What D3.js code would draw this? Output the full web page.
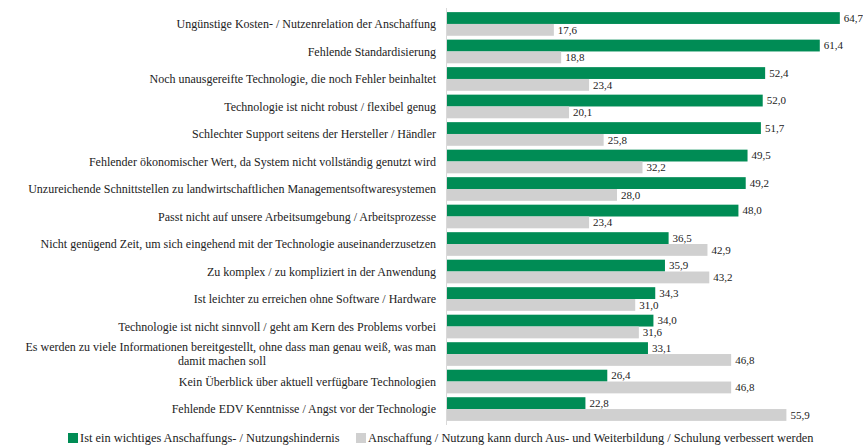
<!DOCTYPE html>
<html>
<head>
<meta charset="utf-8">
<script src="https://cdn.jsdelivr.net/npm/d3@7"></script>
<style>
  body { margin: 0; background: #fff; }
</style>
</head>
<body>
<div id="chart"></div>
<script>
// Categories (top to bottom) and the two series
const categories = [
    "Ungünstige Kosten- / Nutzenrelation der Anschaffung",
    "Fehlende Standardisierung",
    "Noch unausgereifte Technologie, die noch Fehler beinhaltet",
    "Technologie ist nicht robust / flexibel genug",
    "Schlechter Support seitens der Hersteller / Händler",
    "Fehlender ökonomischer Wert, da System nicht vollständig genutzt wird",
    "Unzureichende Schnittstellen zu landwirtschaftlichen Managementsoftwaresystemen",
    "Passt nicht auf unsere Arbeitsumgebung / Arbeitsprozesse",
    "Nicht genügend Zeit, um sich eingehend mit der Technologie auseinanderzusetzen",
    "Zu komplex / zu kompliziert in der Anwendung",
    "Ist leichter zu erreichen ohne Software / Hardware",
    "Technologie ist nicht sinnvoll / geht am Kern des Problems vorbei",
    "Es werden zu viele Informationen bereitgestellt, ohne dass man genau weiß, was man\ndamit machen soll",
    "Kein Überblick über aktuell verfügbare Technologien",
    "Fehlende EDV Kenntnisse / Angst vor der Technologie"
];
const hindernis = [64.7, 61.4, 52.4, 52.0, 51.7, 49.5, 49.2, 48.0, 36.5, 35.9, 34.3, 34.0, 33.1, 26.4, 22.8];
const schulung = [17.6, 18.8, 23.4, 20.1, 25.8, 32.2, 28.0, 23.4, 42.9, 43.2, 31.0, 31.6, 46.8, 46.8, 55.9];
const seriesNames = [
    "Ist ein wichtiges Anschaffungs- / Nutzungshindernis",
    "Anschaffung / Nutzung kann durch Aus- und Weiterbildung / Schulung verbessert werden"
];
const colors = ["#008c55", "#d0d0d0"];

const FONT = "'Liberation Serif', 'Times New Roman', serif";

const width = 863, height = 448;
const svg = d3.select('#chart').append('svg')
    .attr('width', width)
    .attr('height', height)
    .style('font-family', FONT);

const y = d3.scaleBand()
    .domain(categories)
    .range([8, 425])
    .paddingInner(0.14)
    .paddingOuter(0.15);

const sub = d3.scaleBand()
    .domain([0, 1])
    .range([0, y.bandwidth()]);

const x = d3.scaleLinear()
    .domain([0, 70])
    .range([447, 872]);

const fmt = v => d3.format('.1f')(v).replace('.', ',');

// Bars for both series
const series = [hindernis, schulung];
series.forEach((values, s) => {
    const g = svg.append('g');
    g.selectAll('rect')
        .data(values)
        .enter().append('rect')
        .attr('x', x(0))
        .attr('y', (d, i) => y(categories[i]) + sub(s))
        .attr('width', d => x(d) - x(0))
        .attr('height', sub.bandwidth())
        .attr('fill', colors[s]);

    g.selectAll('text')
        .data(values)
        .enter().append('text')
        .attr('x', d => x(d) + 4)
        .attr('y', (d, i) => y(categories[i]) + sub(s) + sub.bandwidth() / 2)
        .attr('dy', '0.35em')
        .attr('fill', '#222')
        .style('font-size', '11px')
        .text(d => fmt(d));
});

// Vertical axis line
svg.append('line')
    .attr('x1', x(0) - 0.5).attr('x2', x(0) - 0.5)
    .attr('y1', 8).attr('y2', 425)
    .attr('stroke', '#d9d9d9')
    .attr('stroke-width', 1);

// Category labels (right-aligned, centred on each group)
const labels = svg.append('g')
    .selectAll('text')
    .data(categories)
    .enter().append('text')
    .attr('text-anchor', 'end')
    .attr('fill', '#222')
    .style('font-size', '12px')
    .attr('transform', d => `translate(436,${y(d) + y.bandwidth() / 2})`);

labels.each(function(d) {
    const lines = d.split('\n');
    const t = d3.select(this);
    lines.forEach((line, i) => {
        const span = t.append('tspan')
            .attr('x', 0)
            .attr('y', (i - (lines.length - 1) / 2) * 14)
            .attr('dy', '0.35em')
            .text(line);
        if (i > 0) span.attr('x', -214).attr('text-anchor', 'middle');
    });
});

// Legend
const legendX = [68, 356];
seriesNames.forEach((name, s) => {
    svg.append('rect')
        .attr('x', legendX[s]).attr('y', 433)
        .attr('width', 10).attr('height', 10)
        .attr('fill', colors[s]);
    svg.append('text')
        .attr('x', legendX[s] + 12).attr('y', 438)
        .attr('dy', '0.35em')
        .attr('fill', '#222')
        .style('font-size', '12.4px')
        .text(name);
});
</script>
</body>
</html>
